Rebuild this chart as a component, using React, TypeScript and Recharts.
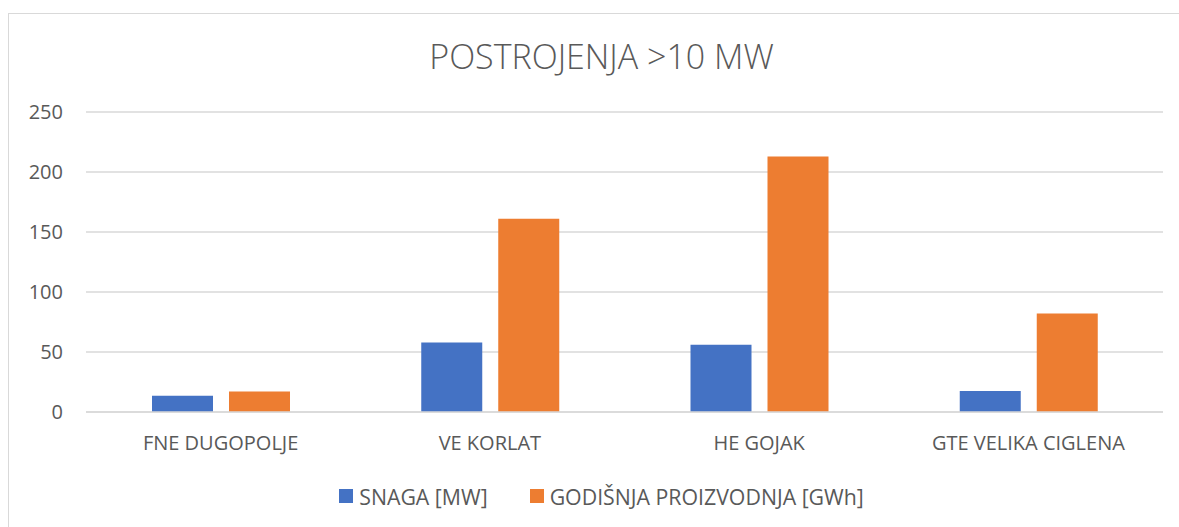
import { Bar, BarChart, CartesianGrid, Legend, XAxis, YAxis } from "recharts"

// postrojenja snage iznad 10 MW
const categories = ["FNE DUGOPOLJE", "VE KORLAT", "HE GOJAK", "GTE VELIKA CIGLENA"]
const snaga = [13.5, 58, 56, 17.5]
const proizvodnja = [17, 161, 213, 82]
const yTicks = [0, 50, 100, 150, 200, 250]

const seriesNames = ["SNAGA [MW]", "GODIŠNJA PROIZVODNJA [GWh]"]
const colors = ["#4472C4", "#ED7D31"]

const data = categories.map((name, i) => ({
  name,
  [seriesNames[0]]: snaga[i],
  [seriesNames[1]]: proizvodnja[i],
}))

const font = "'Open Sans', sans-serif"
const textColor = "#595959"

function LegendBox() {
  return (
    <div
      style={{
        height: 65,
        paddingTop: 21,
        boxSizing: "border-box",
        display: "flex",
        justifyContent: "center",
        gap: 42,
        fontFamily: font,
        fontSize: 21.3,
        color: textColor,
        marginLeft: 40,
      }}
    >
      {seriesNames.map((s, i) => (
        <div key={s} style={{ display: "flex", alignItems: "center", height: 26 }}>
          <span style={{ width: 14, height: 14, background: colors[i], marginRight: 6, display: "inline-block" }} />
          <span>{s}</span>
        </div>
      ))}
    </div>
  )
}

export default function App() {
  return (
    <div style={{ position: "absolute", left: 0, top: 0, width: 1179, height: 527, background: "#fff", overflow: "hidden" }}>
      <div
        style={{
          position: "absolute",
          left: 8,
          top: 13,
          width: 1200,
          height: 600,
          border: "1px solid #d9d9d9",
        }}
      />
      <div
        style={{
          position: "absolute",
          left: 0,
          width: 1179,
          top: 33,
          textAlign: "center",
          fontFamily: font,
          fontWeight: 300,
          fontSize: 34,
          color: textColor,
          paddingLeft: 24,
          boxSizing: "border-box",
        }}
      >
        POSTROJENJA &gt;10 MW
      </div>
      <BarChart
        width={1179}
        height={527}
        data={data}
        margin={{ top: 112, right: 16, left: 0, bottom: 0 }}
        barSize={61}
        barGap={16}
        style={{ position: "absolute", left: 0, top: 0 }}
      >
        <CartesianGrid vertical={false} stroke="#d9d9d9" strokeWidth={1.3} />
        <XAxis
          dataKey="name"
          height={50}
          tickLine={false}
          axisLine={{ stroke: "#d9d9d9", strokeWidth: 1.3 }}
          tickMargin={18}
          tick={{ fill: textColor, fontSize: 20, fontFamily: font }}
          interval={0}
        />
        <YAxis
          width={86}
          domain={[0, 250]}
          ticks={yTicks}
          tickLine={false}
          axisLine={false}
          tickMargin={17}
          tick={{ fill: textColor, fontSize: 20, fontFamily: font }}
        />
        <Legend verticalAlign="bottom" content={() => <LegendBox />} />
        {seriesNames.map((s, i) => (
          <Bar key={s} dataKey={s} fill={colors[i]} isAnimationActive={false} />
        ))}
      </BarChart>
    </div>
  )
}
